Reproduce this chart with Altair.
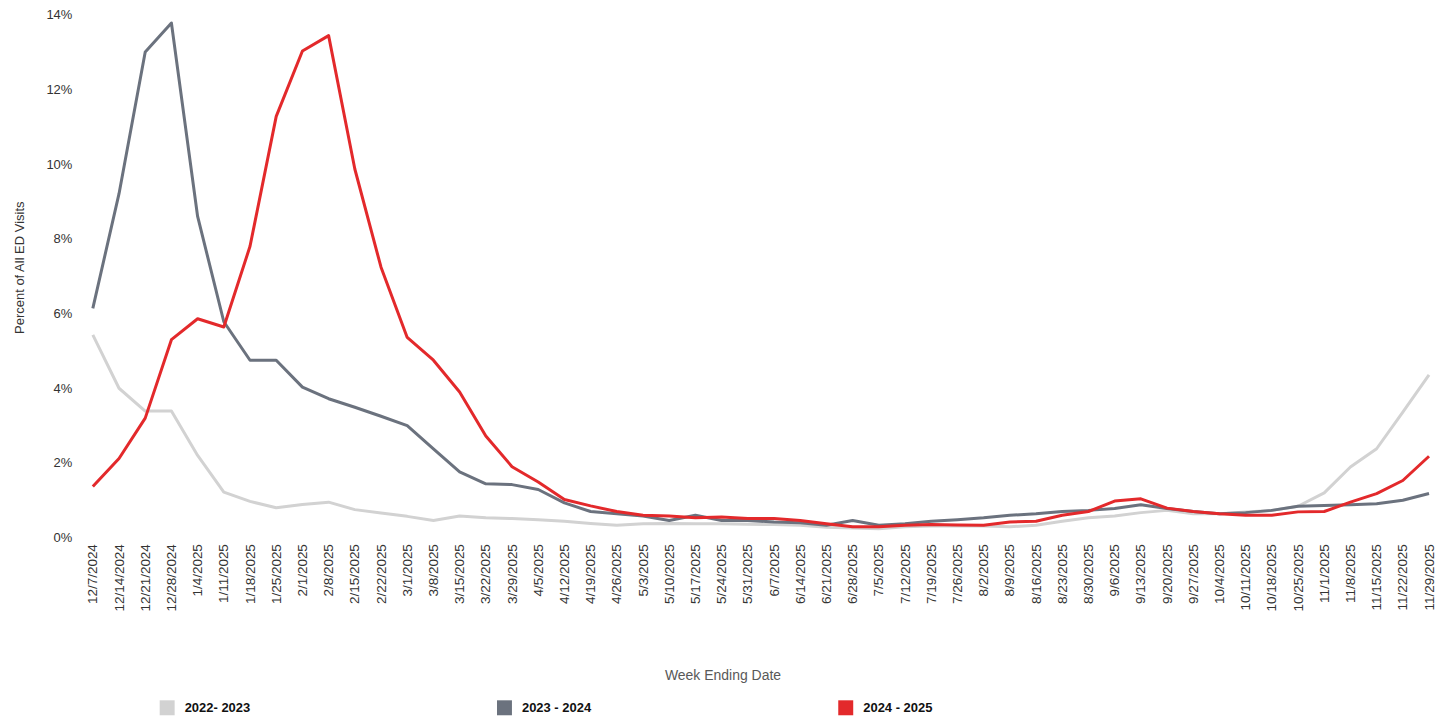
import altair as alt
import pandas as pd

weeks = ["12/7/2024", "12/14/2024", "12/21/2024", "12/28/2024", "1/4/2025", "1/11/2025",
         "1/18/2025", "1/25/2025", "2/1/2025", "2/8/2025", "2/15/2025", "2/22/2025",
         "3/1/2025", "3/8/2025", "3/15/2025", "3/22/2025", "3/29/2025", "4/5/2025",
         "4/12/2025", "4/19/2025", "4/26/2025", "5/3/2025", "5/10/2025", "5/17/2025",
         "5/24/2025", "5/31/2025", "6/7/2025", "6/14/2025", "6/21/2025", "6/28/2025",
         "7/5/2025", "7/12/2025", "7/19/2025", "7/26/2025", "8/2/2025", "8/9/2025",
         "8/16/2025", "8/23/2025", "8/30/2025", "9/6/2025", "9/13/2025", "9/20/2025",
         "9/27/2025", "10/4/2025", "10/11/2025", "10/18/2025", "10/25/2025", "11/1/2025",
         "11/8/2025", "11/15/2025", "11/22/2025", "11/29/2025"]

season_2022_2023 = [5.43, 4.00, 3.39, 3.39, 2.20, 1.22, 0.97, 0.80, 0.89, 0.95, 0.75, 0.66,
                    0.57, 0.46, 0.58, 0.53, 0.51, 0.48, 0.44, 0.38, 0.33, 0.37, 0.38, 0.37,
                    0.37, 0.36, 0.35, 0.33, 0.28, 0.26, 0.24, 0.29, 0.31, 0.32, 0.31, 0.29,
                    0.33, 0.44, 0.53, 0.58, 0.67, 0.73, 0.64, 0.64, 0.69, 0.73, 0.84, 1.20,
                    1.89, 2.38, 3.36, 4.36]

season_2023_2024 = [6.14, 9.21, 13.00, 13.78, 8.60, 5.78, 4.75, 4.75, 4.03, 3.72, 3.49, 3.25,
                    3.00, 2.38, 1.76, 1.44, 1.42, 1.29, 0.93, 0.70, 0.64, 0.58, 0.46, 0.60,
                    0.46, 0.46, 0.42, 0.40, 0.33, 0.46, 0.33, 0.37, 0.44, 0.48, 0.53, 0.60,
                    0.64, 0.70, 0.73, 0.78, 0.88, 0.78, 0.70, 0.64, 0.67, 0.73, 0.84, 0.86,
                    0.88, 0.91, 1.00, 1.18]

season_2024_2025 = [1.37, 2.12, 3.20, 5.30, 5.86, 5.64, 7.80, 11.28, 13.03, 13.44, 9.87, 7.24,
                    5.36, 4.75, 3.90, 2.72, 1.90, 1.49, 1.02, 0.85, 0.70, 0.60, 0.58, 0.53,
                    0.55, 0.51, 0.51, 0.46, 0.37, 0.29, 0.29, 0.33, 0.35, 0.34, 0.33, 0.42,
                    0.44, 0.60, 0.70, 0.98, 1.04, 0.79, 0.70, 0.64, 0.60, 0.60, 0.69, 0.70,
                    0.95, 1.18, 1.53, 2.18]

series_names = ["2022- 2023", "2023 - 2024", "2024 - 2025"]
series_colors = ["#d2d2d2", "#6b727e", "#e3292b"]
y_ticks = [0, 2, 4, 6, 8, 10, 12, 14]

rows = []
for name, vals in zip(series_names, [season_2022_2023, season_2023_2024, season_2024_2025]):
    for w, v in zip(weeks, vals):
        rows.append({"week": w, "season": name, "pct": v})
df = pd.DataFrame(rows)

font = "Liberation Sans"

chart = alt.Chart(df).mark_line(strokeWidth=3, strokeJoin="round").encode(
    x=alt.X("week:N", sort=weeks,
            scale=alt.Scale(type="point", padding=0),
            axis=alt.Axis(title="Week Ending Date", labelAngle=270, labelPadding=6,
                          labelFontSize=13.5, labelColor="#333333", labelFont=font,
                          domain=False, ticks=False, tickSize=0, grid=False,
                          titleFont=font, titleFontSize=14, titleFontWeight="normal",
                          titleColor="#595959", titlePadding=58, titleX=631)),
    y=alt.Y("pct:Q", scale=alt.Scale(domain=[0, 14], nice=False),
            axis=alt.Axis(title="Percent of All ED Visits", values=y_ticks,
                          labelExpr="datum.value + '%'", labelFontSize=13,
                          labelColor="#333333", labelFont=font, labelPadding=21,
                          domain=False, ticks=False, tickSize=0, grid=False,
                          titleFont=font, titleFontSize=13, titleFontWeight="normal",
                          titleColor="#333333", titlePadding=19, titleY=253)),
    color=alt.Color("season:N", sort=series_names,
                    scale=alt.Scale(domain=series_names, range=series_colors),
                    legend=alt.Legend(title=None, orient="none", direction="horizontal",
                                      columns=3, columnPadding=232,
                                      legendX=67, legendY=687,
                                      symbolType="square", symbolSize=25,
                                      symbolStrokeWidth=10, symbolOpacity=1,
                                      labelFont=font,
                                      labelFontSize=13, labelFontWeight="bold",
                                      labelColor="#111111", labelOffset=10,
                                      padding=0)),
    order=alt.Order("season:N"),
).properties(
    width=1339,
    height=524,
    padding={"left": 5, "top": 0, "right": 0, "bottom": 0},
).configure(background="white").configure_view(stroke=None, strokeWidth=0)

chart.save("out.html", embed_options={"renderer": "svg", "actions": False})
